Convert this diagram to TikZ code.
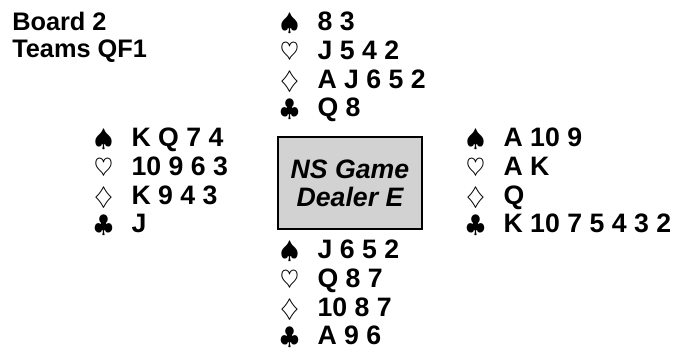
\documentclass[tikz,border=0pt]{standalone}
\usepackage{fontspec}
\setmainfont{Liberation Sans}
\usetikzlibrary{positioning}

% ---- hand as a two column table ----
\newcommand{\handtab}[4]{%
    \begin{tabular}{@{}l@{\hspace{14pt}}l@{}}
        \suit{\spadesuit} & #1\\
        \suit{\heartsuit} & #2\\
        \suit{\diamondsuit} & #3\\
        \suit{\clubsuit} & #4
    \end{tabular}}
\newcommand{\suit}[1]{\makebox[14pt][c]{\scalebox{0.88}{$#1$}}}

\begin{document}
\begin{tikzpicture}[
    x=0.75pt, y=-0.75pt,
    hand/.style={anchor=west, inner sep=0pt, font=\bfseries\fontsize{20}{21.5}\selectfont},
    title/.style={anchor=west, inner sep=0pt, font=\bfseries\fontsize{19}{20}\selectfont, align=left},
    info box/.style={draw, line width=1.5pt, fill=gray!35, minimum width=108pt,
        minimum height=69pt, align=center,
        font=\bfseries\itshape\fontsize{20}{21}\selectfont},
]

% ---- page size (px) ----
\useasboundingbox (0,0) rectangle (677,352);

% ---- board heading ----
\node[title] (board) at (12, 37) {Board 2\\Teams QF1};

% ---- the four hands ----
\node[hand] (north) at (280, 68)  {\handtab{8 3}{J 5 4 2}{A J 6 5 2}{Q 8}};
\node[hand] (west)  at (94, 184)  {\handtab{K Q 7 4}{10 9 6 3}{K 9 4 3}{J}};
\node[hand] (east)  at (466, 184) {\handtab{A 10 9}{A K}{Q}{K 10 7 5 4 3 2}};
\node[hand] (south) at (280, 296) {\handtab{J 6 5 2}{Q 8 7}{10 8 7}{A 9 6}};

% ---- vulnerability and dealer ----
\node[info box] (info) at (350, 183) {NS Game\\Dealer E};

\end{tikzpicture}
\end{document}
